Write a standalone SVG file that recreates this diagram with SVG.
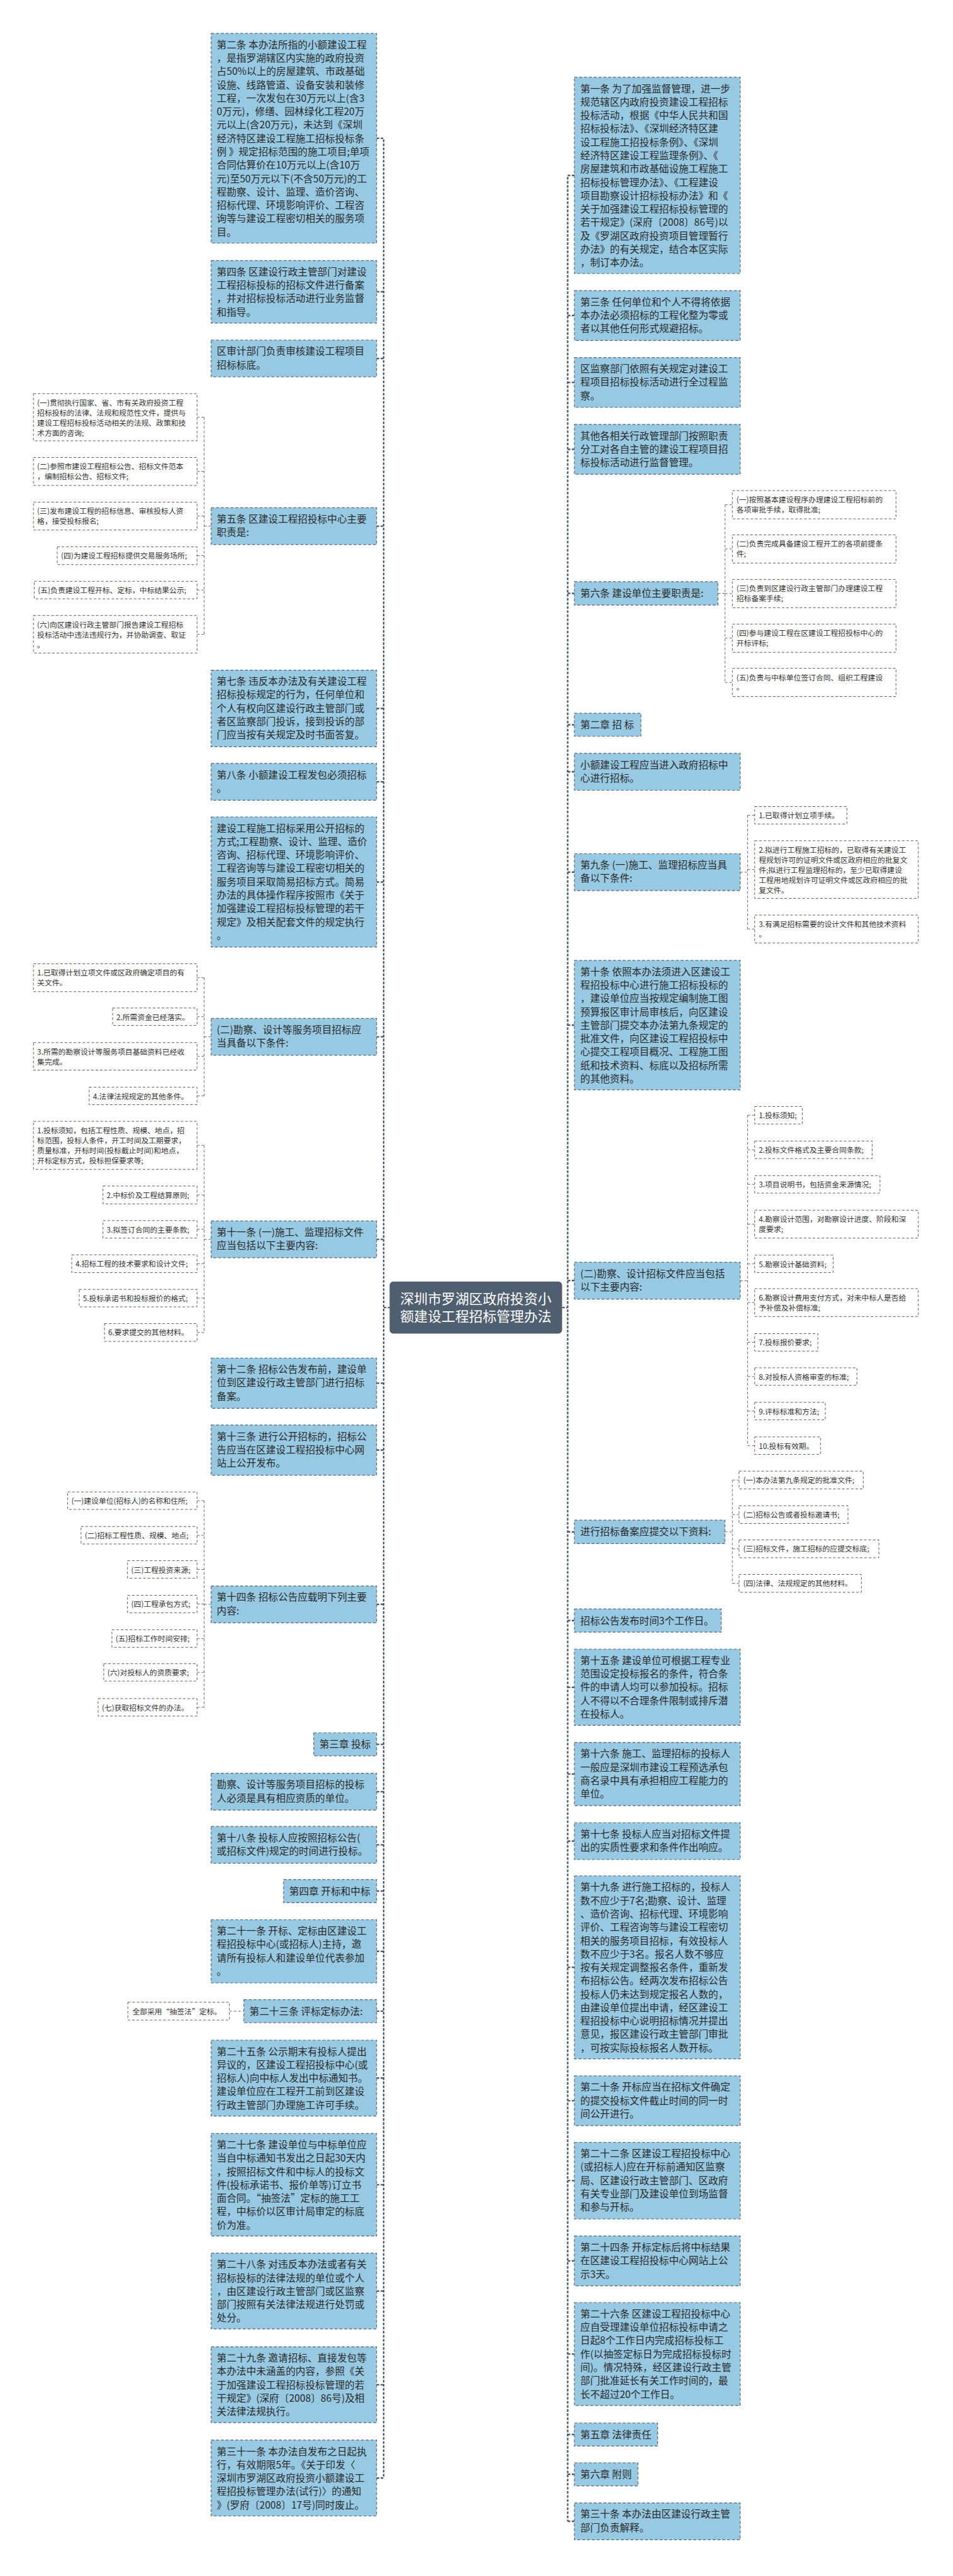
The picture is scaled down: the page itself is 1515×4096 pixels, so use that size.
<svg xmlns="http://www.w3.org/2000/svg" width="1515" height="4096" viewBox="0 0 1515 4096">
<style>
text{font-family:"Noto Sans CJK SC","Noto Sans",sans-serif;}
.m rect{fill:#97c9e2;stroke:#56687a;stroke-width:2;stroke-dasharray:8 5;}
.m text{font-size:26.5px;fill:#2a2a2a;}
.l rect{fill:#ffffff;stroke:#555555;stroke-width:1.6;stroke-dasharray:7 5;}
.l text{font-size:20px;fill:#333333;}
.c rect{fill:#505f6f;}
.c text{font-size:37px;fill:#ffffff;text-anchor:middle;}
.tr{stroke:#4b5969;stroke-width:4;stroke-dasharray:7 4;fill:none;}
.lc{stroke:#666666;stroke-width:1.6;stroke-dasharray:7 5;fill:none;}
</style>
<rect width="1515" height="4096" fill="#ffffff"/>
<g transform="scale(0.591)">
<g id="connectors">
<path class="tr" d="M1013 372H1032V6667M1013 785H1032M1013 964.5H1032M1013 1415.5H1032M1013 1906H1032M1013 2103.5H1032M1013 2373H1032M1013 2789.5H1032M1013 3334.5H1032M1032 3518H1048M1013 3721.5H1032M1013 3901.5H1032M1013 4316.5H1032M1013 4693H1032M1013 4820.5H1032M1013 4963.5H1032M1013 5088H1032M1013 5250H1032M1013 5411H1032M1013 5591H1032M1013 5878H1032M1013 6164H1032M1013 6416H1032M1013 6667H1032"/>
<path class="tr" d="M1545 472H1527V6783.5M1527 849H1545M1527 1029H1545M1527 1209H1545M1527 1596.5H1545M1527 1950H1545M1527 2076.5H1545M1527 2346.5H1545M1527 2758H1545M1527 3445.5H1545M1512 3518H1527M1527 4121.5H1545M1527 4360H1545M1527 4539.5H1545M1527 4773H1545M1527 4953.5H1545M1527 5293H1545M1527 5652H1545M1527 5867H1545M1527 6083H1545M1527 6333.5H1545M1527 6550H1545M1527 6657H1545M1527 6783.5H1545"/>
<path class="lc" d="M568 1415.5H549M549 1122.5V1706.5M530 1122.5H549M530 1268.5H549M530 1388.5H549M530 1495H549M530 1587.5H549M530 1706.5H549"/>
<path class="lc" d="M568 2789.5H549M549 2630.5V2948.5M530 2630.5H549M530 2735.5H549M530 2842H549M530 2948.5H549"/>
<path class="lc" d="M568 3334.5H549M549 3081.5V3585M530 3081.5H549M530 3215H549M530 3307.5H549M530 3400H549M530 3492.5H549M530 3585H549"/>
<path class="lc" d="M568 4316.5H549M549 4037.5V4593.5M530 4037.5H549M530 4130.5H549M530 4222.5H549M530 4315.5H549M530 4408.5H549M530 4499.5H549M530 4593.5H549"/>
<path class="lc" d="M617 5411H656"/>
<path class="lc" d="M1931 1596.5H1950M1950 1358V1836M1950 1358H1970M1950 1477H1970M1950 1597H1970M1950 1717H1970M1950 1836H1970"/>
<path class="lc" d="M1991 2346.5H2011M2011 2193.5V2499.5M2011 2193.5H2030M2011 2339.5H2030M2011 2499.5H2030"/>
<path class="lc" d="M1991 3445.5H2011M2011 3000.5V3889.5M2011 3000.5H2030M2011 3093.5H2030M2011 3186.5H2030M2011 3293.5H2030M2011 3400.5H2030M2011 3504.5H2030M2011 3611.5H2030M2011 3703.5H2030M2011 3796.5H2030M2011 3889.5H2030"/>
<path class="lc" d="M1950 4121.5H1970M1970 3982V4260M1970 3982H1988M1970 4075H1988M1970 4167H1988M1970 4260H1988"/>
</g>

<g id="center" class="c"><rect x="1048" y="3448" width="464" height="140" rx="10"/><text><tspan x="1280" y="3507">深圳市罗湖区政府投资小</tspan><tspan x="1280" y="3555">额建设工程招标管理办法</tspan></text></g>

<g id="L1" class="m"><rect x="568" y="90" width="445" height="564"/><text><tspan x="583" y="130">第二条 本办法所指的小额建设工程</tspan><tspan x="583" y="166">，是指罗湖辖区内实施的政府投资</tspan><tspan x="583" y="202">占50%以上的房屋建筑、市政基础</tspan><tspan x="583" y="238">设施、线路管道、设备安装和装修</tspan><tspan x="583" y="274">工程，一次发包在30万元以上(含3</tspan><tspan x="583" y="310">0万元)，修缮、园林绿化工程20万</tspan><tspan x="583" y="346">元以上(含20万元)，未达到《深圳</tspan><tspan x="583" y="382">经济特区建设工程施工招标投标条</tspan><tspan x="583" y="418">例 》规定招标范围的施工项目;单项</tspan><tspan x="583" y="454">合同估算价在10万元以上(含10万</tspan><tspan x="583" y="490">元)至50万元以下(不含50万元)的工</tspan><tspan x="583" y="526">程勘察、设计、监理、造价咨询、</tspan><tspan x="583" y="562">招标代理、环境影响评价、工程咨</tspan><tspan x="583" y="598">询等与建设工程密切相关的服务项</tspan><tspan x="583" y="634">目。</tspan></text></g>
<g id="L2" class="m"><rect x="568" y="701" width="445" height="168"/><text><tspan x="583" y="741">第四条 区建设行政主管部门对建设</tspan><tspan x="583" y="777">工程招标投标的招标文件进行备案</tspan><tspan x="583" y="813">，并对招标投标活动进行业务监督</tspan><tspan x="583" y="849">和指导。</tspan></text></g>
<g id="L3" class="m"><rect x="568" y="915" width="445" height="99"/><text><tspan x="583" y="955">区审计部门负责审核建设工程项目</tspan><tspan x="583" y="991">招标标底。</tspan></text></g>
<g id="L4" class="m"><rect x="568" y="1366" width="445" height="99"/><text><tspan x="583" y="1406">第五条 区建设工程招投标中心主要</tspan><tspan x="583" y="1442">职责是:</tspan></text></g>
<g id="L4a" class="l"><rect x="90" y="1059" width="440" height="127"/><text><tspan x="100" y="1091">(一)贯彻执行国家、省、市有关政府投资工程</tspan><tspan x="100" y="1118">招标投标的法律、法规和规范性文件，提供与</tspan><tspan x="100" y="1145">建设工程招标投标活动相关的法规、政策和技</tspan><tspan x="100" y="1172">术方面的咨询;</tspan></text></g>
<g id="L4b" class="l"><rect x="90" y="1231" width="440" height="75"/><text><tspan x="100" y="1263">(二)参照市建设工程招标公告、招标文件范本</tspan><tspan x="100" y="1290">，编制招标公告、招标文件;</tspan></text></g>
<g id="L4c" class="l"><rect x="90" y="1351" width="440" height="75"/><text><tspan x="100" y="1383">(三)发布建设工程的招标信息、审核投标人资</tspan><tspan x="100" y="1410">格，接受投标报名;</tspan></text></g>
<g id="L4d" class="l"><rect x="154" y="1471" width="376" height="48"/><text><tspan x="164" y="1503">(四)为建设工程招标提供交易服务场所;</tspan></text></g>
<g id="L4e" class="l"><rect x="92" y="1564" width="438" height="47"/><text><tspan x="102" y="1596">(五)负责建设工程开标、定标，中标结果公示;</tspan></text></g>
<g id="L4f" class="l"><rect x="90" y="1656" width="440" height="101"/><text><tspan x="100" y="1688">(六)向区建设行政主管部门报告建设工程招标</tspan><tspan x="100" y="1715">投标活动中违法违规行为，并协助调查、取证</tspan><tspan x="100" y="1742">。</tspan></text></g>
<g id="L5" class="m"><rect x="568" y="1803" width="445" height="206"/><text><tspan x="583" y="1843">第七条 违反本办法及有关建设工程</tspan><tspan x="583" y="1879">招标投标规定的行为，任何单位和</tspan><tspan x="583" y="1915">个人有权向区建设行政主管部门或</tspan><tspan x="583" y="1951">者区监察部门投诉，接到投诉的部</tspan><tspan x="583" y="1987">门应当按有关规定及时书面答复。</tspan></text></g>
<g id="L6" class="m"><rect x="568" y="2054" width="445" height="99"/><text><tspan x="583" y="2094">第八条 小额建设工程发包必须招标</tspan><tspan x="583" y="2130">。</tspan></text></g>
<g id="L7" class="m"><rect x="568" y="2198" width="445" height="350"/><text><tspan x="583" y="2238">建设工程施工招标采用公开招标的</tspan><tspan x="583" y="2274">方式;工程勘察、设计、监理、造价</tspan><tspan x="583" y="2310">咨询、招标代理、环境影响评价、</tspan><tspan x="583" y="2346">工程咨询等与建设工程密切相关的</tspan><tspan x="583" y="2382">服务项目采取简易招标方式。简易</tspan><tspan x="583" y="2418">办法的具体操作程序按照市《关于</tspan><tspan x="583" y="2454">加强建设工程招标投标管理的若干</tspan><tspan x="583" y="2490">规定》及相关配套文件的规定执行</tspan><tspan x="583" y="2526">。</tspan></text></g>
<g id="L8" class="m"><rect x="568" y="2740" width="445" height="99"/><text><tspan x="583" y="2780">(二)勘察、设计等服务项目招标应</tspan><tspan x="583" y="2816">当具备以下条件:</tspan></text></g>
<g id="L8a" class="l"><rect x="90" y="2593" width="440" height="75"/><text><tspan x="100" y="2625">1.已取得计划立项文件或区政府确定项目的有</tspan><tspan x="100" y="2652">关文件。</tspan></text></g>
<g id="L8b" class="l"><rect x="303" y="2712" width="227" height="47"/><text><tspan x="313" y="2744">2.所需资金已经落实。</tspan></text></g>
<g id="L8c" class="l"><rect x="90" y="2805" width="440" height="74"/><text><tspan x="100" y="2837">3.所需的勘察设计等服务项目基础资料已经收</tspan><tspan x="100" y="2864">集完成。</tspan></text></g>
<g id="L8d" class="l"><rect x="240" y="2925" width="290" height="47"/><text><tspan x="250" y="2957">4.法律法规规定的其他条件。</tspan></text></g>
<g id="L9" class="m"><rect x="568" y="3285" width="445" height="99"/><text><tspan x="583" y="3325">第十一条 (一)施工、监理招标文件</tspan><tspan x="583" y="3361">应当包括以下主要内容:</tspan></text></g>
<g id="L9a" class="l"><rect x="90" y="3017" width="440" height="129"/><text><tspan x="100" y="3049">1.投标须知，包括工程性质、规模、地点，招</tspan><tspan x="100" y="3076">标范围，投标人条件，开工时间及工期要求，</tspan><tspan x="100" y="3103">质量标准，开标时间(投标截止时间)和地点，</tspan><tspan x="100" y="3130">开标定标方式，投标担保要求等;</tspan></text></g>
<g id="L9b" class="l"><rect x="277" y="3191" width="253" height="48"/><text><tspan x="287" y="3223">2.中标价及工程结算原则;</tspan></text></g>
<g id="L9c" class="l"><rect x="277" y="3284" width="253" height="47"/><text><tspan x="287" y="3316">3.拟签订合同的主要条款;</tspan></text></g>
<g id="L9d" class="l"><rect x="193" y="3376" width="337" height="48"/><text><tspan x="203" y="3408">4.招标工程的技术要求和设计文件;</tspan></text></g>
<g id="L9e" class="l"><rect x="213" y="3469" width="317" height="47"/><text><tspan x="223" y="3501">5.投标承诺书和投标报价的格式;</tspan></text></g>
<g id="L9f" class="l"><rect x="281" y="3561" width="249" height="48"/><text><tspan x="291" y="3593">6.要求提交的其他材料。</tspan></text></g>
<g id="L10" class="m"><rect x="568" y="3654" width="445" height="135"/><text><tspan x="583" y="3694">第十二条 招标公告发布前，建设单</tspan><tspan x="583" y="3730">位到区建设行政主管部门进行招标</tspan><tspan x="583" y="3766">备案。</tspan></text></g>
<g id="L11" class="m"><rect x="568" y="3834" width="445" height="135"/><text><tspan x="583" y="3874">第十三条 进行公开招标的，招标公</tspan><tspan x="583" y="3910">告应当在区建设工程招投标中心网</tspan><tspan x="583" y="3946">站上公开发布。</tspan></text></g>
<g id="L12" class="m"><rect x="568" y="4267" width="445" height="99"/><text><tspan x="583" y="4307">第十四条 招标公告应载明下列主要</tspan><tspan x="583" y="4343">内容:</tspan></text></g>
<g id="L12a" class="l"><rect x="182" y="4014" width="348" height="47"/><text><tspan x="192" y="4046">(一)建设单位(招标人)的名称和住所;</tspan></text></g>
<g id="L12b" class="l"><rect x="218" y="4107" width="312" height="47"/><text><tspan x="228" y="4139">(二)招标工程性质、规模、地点;</tspan></text></g>
<g id="L12c" class="l"><rect x="343" y="4199" width="187" height="47"/><text><tspan x="353" y="4231">(三)工程投资来源;</tspan></text></g>
<g id="L12d" class="l"><rect x="343" y="4292" width="187" height="47"/><text><tspan x="353" y="4324">(四)工程承包方式;</tspan></text></g>
<g id="L12e" class="l"><rect x="301" y="4385" width="229" height="47"/><text><tspan x="311" y="4417">(五)招标工作时间安排;</tspan></text></g>
<g id="L12f" class="l"><rect x="279" y="4476" width="251" height="47"/><text><tspan x="289" y="4508">(六)对投标人的资质要求;</tspan></text></g>
<g id="L12g" class="l"><rect x="264" y="4570" width="266" height="47"/><text><tspan x="274" y="4602">(七)获取招标文件的办法。</tspan></text></g>
<g id="L13" class="m"><rect x="844" y="4662" width="169" height="62"/><text><tspan x="859" y="4703">第三章 投标</tspan></text></g>
<g id="L14" class="m"><rect x="568" y="4771" width="445" height="99"/><text><tspan x="583" y="4811">勘察、设计等服务项目招标的投标</tspan><tspan x="583" y="4847">人必须是具有相应资质的单位。</tspan></text></g>
<g id="L15" class="m"><rect x="568" y="4914" width="445" height="99"/><text><tspan x="583" y="4954">第十八条 投标人应按照招标公告(</tspan><tspan x="583" y="4990">或招标文件)规定的时间进行投标。</tspan></text></g>
<g id="L16" class="m"><rect x="763" y="5057" width="250" height="62"/><text><tspan x="778" y="5098">第四章 开标和中标</tspan></text></g>
<g id="L17" class="m"><rect x="568" y="5165" width="445" height="170"/><text><tspan x="583" y="5205">第二十一条 开标、定标由区建设工</tspan><tspan x="583" y="5241">程招投标中心(或招标人)主持，邀</tspan><tspan x="583" y="5277">请所有投标人和建设单位代表参加</tspan><tspan x="583" y="5313">。</tspan></text></g>
<g id="L18" class="m"><rect x="656" y="5380" width="357" height="62"/><text><tspan x="671" y="5421">第二十三条 评标定标办法:</tspan></text></g>
<g id="L18a" class="l"><rect x="344" y="5387" width="273" height="48"/><text><tspan x="356" y="5419">全部采用“抽签法”定标。</tspan></text></g>
<g id="L19" class="m"><rect x="568" y="5489" width="445" height="204"/><text><tspan x="583" y="5529">第二十五条 公示期末有投标人提出</tspan><tspan x="583" y="5565">异议的，区建设工程招投标中心(或</tspan><tspan x="583" y="5601">招标人)向中标人发出中标通知书。</tspan><tspan x="583" y="5637">建设单位应在工程开工前到区建设</tspan><tspan x="583" y="5673">行政主管部门办理施工许可手续。</tspan></text></g>
<g id="L20" class="m"><rect x="568" y="5740" width="445" height="276"/><text><tspan x="583" y="5780">第二十七条 建设单位与中标单位应</tspan><tspan x="583" y="5816">当自中标通知书发出之日起30天内</tspan><tspan x="583" y="5852">，按照招标文件和中标人的投标文</tspan><tspan x="583" y="5888">件(投标承诺书、报价单等)订立书</tspan><tspan x="583" y="5924">面合同。“抽签法”定标的施工工</tspan><tspan x="583" y="5960">程，中标价以区审计局审定的标底</tspan><tspan x="583" y="5996">价为准。</tspan></text></g>
<g id="L21" class="m"><rect x="568" y="6062" width="445" height="204"/><text><tspan x="583" y="6102">第二十八条 对违反本办法或者有关</tspan><tspan x="583" y="6138">招标投标的法律法规的单位或个人</tspan><tspan x="583" y="6174">，由区建设行政主管部门或区监察</tspan><tspan x="583" y="6210">部门按照有关法律法规进行处罚或</tspan><tspan x="583" y="6246">处分。</tspan></text></g>
<g id="L22" class="m"><rect x="568" y="6314" width="445" height="204"/><text><tspan x="583" y="6354">第二十九条 邀请招标、直接发包等</tspan><tspan x="583" y="6390">本办法中未涵盖的内容，参照《关</tspan><tspan x="583" y="6426">于加强建设工程招标投标管理的若</tspan><tspan x="583" y="6462">干规定》(深府〔2008〕86号)及相</tspan><tspan x="583" y="6498">关法律法规执行。</tspan></text></g>
<g id="L23" class="m"><rect x="568" y="6565" width="445" height="204"/><text><tspan x="583" y="6605">第三十一条 本办法自发布之日起执</tspan><tspan x="583" y="6641">行，有效期限5年。《关于印发〈</tspan><tspan x="583" y="6677">深圳市罗湖区政府投资小额建设工</tspan><tspan x="583" y="6713">程招投标管理办法(试行)〉的通知</tspan><tspan x="583" y="6749">》(罗府〔2008〕17号)同时废止。</tspan></text></g>

<g id="R1" class="m"><rect x="1545" y="208" width="446" height="528"/><text><tspan x="1561" y="248">第一条 为了加强监督管理，进一步</tspan><tspan x="1561" y="284">规范辖区内政府投资建设工程招标</tspan><tspan x="1561" y="320">投标活动，根据《中华人民共和国</tspan><tspan x="1561" y="356">招标投标法》、《深圳经济特区建</tspan><tspan x="1561" y="392">设工程施工招投标条例》、《深圳</tspan><tspan x="1561" y="428">经济特区建设工程监理条例》、《</tspan><tspan x="1561" y="464">房屋建筑和市政基础设施工程施工</tspan><tspan x="1561" y="500">招标投标管理办法》、《工程建设</tspan><tspan x="1561" y="536">项目勘察设计招标投标办法》和《</tspan><tspan x="1561" y="572">关于加强建设工程招标投标管理的</tspan><tspan x="1561" y="608">若干规定》(深府〔2008〕86号)以</tspan><tspan x="1561" y="644">及《罗湖区政府投资项目管理暂行</tspan><tspan x="1561" y="680">办法》的有关规定，结合本区实际</tspan><tspan x="1561" y="716">，制订本办法。</tspan></text></g>
<g id="R2" class="m"><rect x="1545" y="782" width="446" height="134"/><text><tspan x="1561" y="822">第三条 任何单位和个人不得将依据</tspan><tspan x="1561" y="858">本办法必须招标的工程化整为零或</tspan><tspan x="1561" y="894">者以其他任何形式规避招标。</tspan></text></g>
<g id="R3" class="m"><rect x="1545" y="962" width="446" height="134"/><text><tspan x="1561" y="1002">区监察部门依照有关规定对建设工</tspan><tspan x="1561" y="1038">程项目招标投标活动进行全过程监</tspan><tspan x="1561" y="1074">察。</tspan></text></g>
<g id="R4" class="m"><rect x="1545" y="1142" width="446" height="134"/><text><tspan x="1561" y="1182">其他各相关行政管理部门按照职责</tspan><tspan x="1561" y="1218">分工对各自主管的建设工程项目招</tspan><tspan x="1561" y="1254">标投标活动进行监督管理。</tspan></text></g>
<g id="R5" class="m"><rect x="1545" y="1565" width="386" height="63"/><text><tspan x="1561" y="1606">第六条 建设单位主要职责是:</tspan></text></g>
<g id="R5a" class="l"><rect x="1970" y="1320" width="440" height="76"/><text><tspan x="1981" y="1352">(一)按照基本建设程序办理建设工程招标前的</tspan><tspan x="1981" y="1379">各项审批手续，取得批准;</tspan></text></g>
<g id="R5b" class="l"><rect x="1970" y="1439" width="440" height="76"/><text><tspan x="1981" y="1471">(二)负责完成具备建设工程开工的各项前提条</tspan><tspan x="1981" y="1498">件;</tspan></text></g>
<g id="R5c" class="l"><rect x="1970" y="1559" width="440" height="76"/><text><tspan x="1981" y="1591">(三)负责到区建设行政主管部门办理建设工程</tspan><tspan x="1981" y="1618">招标备案手续;</tspan></text></g>
<g id="R5d" class="l"><rect x="1970" y="1679" width="440" height="76"/><text><tspan x="1981" y="1711">(四)参与建设工程在区建设工程招投标中心的</tspan><tspan x="1981" y="1738">开标评标;</tspan></text></g>
<g id="R5e" class="l"><rect x="1970" y="1798" width="440" height="76"/><text><tspan x="1981" y="1830">(五)负责与中标单位签订合同、组织工程建设</tspan><tspan x="1981" y="1857">。</tspan></text></g>
<g id="R6" class="m"><rect x="1545" y="1919" width="179" height="62"/><text><tspan x="1561" y="1960">第二章 招 标</tspan></text></g>
<g id="R7" class="m"><rect x="1545" y="2027" width="446" height="99"/><text><tspan x="1561" y="2067">小额建设工程应当进入政府招标中</tspan><tspan x="1561" y="2103">心进行招标。</tspan></text></g>
<g id="R8" class="m"><rect x="1545" y="2297" width="446" height="99"/><text><tspan x="1561" y="2337">第九条 (一)施工、监理招标应当具</tspan><tspan x="1561" y="2373">备以下条件:</tspan></text></g>
<g id="R8a" class="l"><rect x="2030" y="2170" width="248" height="47"/><text><tspan x="2041" y="2202">1.已取得计划立项手续。</tspan></text></g>
<g id="R8b" class="l"><rect x="2030" y="2262" width="440" height="155"/><text><tspan x="2041" y="2294">2.拟进行工程施工招标的，已取得有关建设工</tspan><tspan x="2041" y="2321">程规划许可的证明文件或区政府相应的批复文</tspan><tspan x="2041" y="2348">件;拟进行工程监理招标的，至少已取得建设</tspan><tspan x="2041" y="2375">工程用地规划许可证明文件或区政府相应的批</tspan><tspan x="2041" y="2402">复文件。</tspan></text></g>
<g id="R8c" class="l"><rect x="2030" y="2462" width="440" height="75"/><text><tspan x="2041" y="2494">3.有满足招标需要的设计文件和其他技术资料</tspan><tspan x="2041" y="2521">。</tspan></text></g>
<g id="R9" class="m"><rect x="1545" y="2584" width="446" height="348"/><text><tspan x="1561" y="2624">第十条 依照本办法须进入区建设工</tspan><tspan x="1561" y="2660">程招投标中心进行施工招标投标的</tspan><tspan x="1561" y="2696">，建设单位应当按规定编制施工图</tspan><tspan x="1561" y="2732">预算报区审计局审核后，向区建设</tspan><tspan x="1561" y="2768">主管部门提交本办法第九条规定的</tspan><tspan x="1561" y="2804">批准文件，向区建设工程招投标中</tspan><tspan x="1561" y="2840">心提交工程项目概况、工程施工图</tspan><tspan x="1561" y="2876">纸和技术资料、标底以及招标所需</tspan><tspan x="1561" y="2912">的其他资料。</tspan></text></g>
<g id="R10" class="m"><rect x="1545" y="3396" width="446" height="99"/><text><tspan x="1561" y="3436">(二)勘察、设计招标文件应当包括</tspan><tspan x="1561" y="3472">以下主要内容:</tspan></text></g>
<g id="R10a" class="l"><rect x="2030" y="2977" width="128" height="47"/><text><tspan x="2041" y="3009">1.投标须知;</tspan></text></g>
<g id="R10b" class="l"><rect x="2030" y="3070" width="316" height="47"/><text><tspan x="2041" y="3102">2.投标文件格式及主要合同条款;</tspan></text></g>
<g id="R10c" class="l"><rect x="2030" y="3163" width="337" height="47"/><text><tspan x="2041" y="3195">3.项目说明书，包括资金来源情况;</tspan></text></g>
<g id="R10d" class="l"><rect x="2030" y="3256" width="440" height="75"/><text><tspan x="2041" y="3288">4.勘察设计范围，对勘察设计进度、阶段和深</tspan><tspan x="2041" y="3315">度要求;</tspan></text></g>
<g id="R10e" class="l"><rect x="2030" y="3377" width="211" height="47"/><text><tspan x="2041" y="3409">5.勘察设计基础资料;</tspan></text></g>
<g id="R10f" class="l"><rect x="2030" y="3467" width="440" height="75"/><text><tspan x="2041" y="3499">6.勘察设计费用支付方式，对未中标人是否给</tspan><tspan x="2041" y="3526">予补偿及补偿标准;</tspan></text></g>
<g id="R10g" class="l"><rect x="2030" y="3588" width="170" height="47"/><text><tspan x="2041" y="3620">7.投标报价要求;</tspan></text></g>
<g id="R10h" class="l"><rect x="2030" y="3680" width="275" height="47"/><text><tspan x="2041" y="3712">8.对投标人资格审查的标准;</tspan></text></g>
<g id="R10i" class="l"><rect x="2030" y="3773" width="190" height="47"/><text><tspan x="2041" y="3805">9.评标标准和方法;</tspan></text></g>
<g id="R10j" class="l"><rect x="2030" y="3866" width="177" height="47"/><text><tspan x="2041" y="3898">10.投标有效期。</tspan></text></g>
<g id="R11" class="m"><rect x="1545" y="4090" width="405" height="63"/><text><tspan x="1561" y="4131">进行招标备案应提交以下资料:</tspan></text></g>
<g id="R11a" class="l"><rect x="1988" y="3958" width="334" height="48"/><text><tspan x="1999" y="3990">(一)本办法第九条规定的批准文件;</tspan></text></g>
<g id="R11b" class="l"><rect x="1988" y="4051" width="293" height="48"/><text><tspan x="1999" y="4083">(二)招标公告或者投标邀请书;</tspan></text></g>
<g id="R11c" class="l"><rect x="1988" y="4143" width="376" height="48"/><text><tspan x="1999" y="4175">(三)招标文件，施工招标的应提交标底;</tspan></text></g>
<g id="R11d" class="l"><rect x="1988" y="4236" width="329" height="48"/><text><tspan x="1999" y="4268">(四)法律、法规规定的其他材料。</tspan></text></g>
<g id="R12" class="m"><rect x="1545" y="4329" width="395" height="62"/><text><tspan x="1561" y="4370">招标公告发布时间3个工作日。</tspan></text></g>
<g id="R13" class="m"><rect x="1545" y="4437" width="446" height="205"/><text><tspan x="1561" y="4477">第十五条 建设单位可根据工程专业</tspan><tspan x="1561" y="4513">范围设定投标报名的条件，符合条</tspan><tspan x="1561" y="4549">件的申请人均可以参加投标。招标</tspan><tspan x="1561" y="4585">人不得以不合理条件限制或排斥潜</tspan><tspan x="1561" y="4621">在投标人。</tspan></text></g>
<g id="R14" class="m"><rect x="1545" y="4688" width="446" height="170"/><text><tspan x="1561" y="4728">第十六条 施工、监理招标的投标人</tspan><tspan x="1561" y="4764">一般应是深圳市建设工程预选承包</tspan><tspan x="1561" y="4800">商名录中具有承担相应工程能力的</tspan><tspan x="1561" y="4836">单位。</tspan></text></g>
<g id="R15" class="m"><rect x="1545" y="4904" width="446" height="99"/><text><tspan x="1561" y="4944">第十七条 投标人应当对招标文件提</tspan><tspan x="1561" y="4980">出的实质性要求和条件作出响应。</tspan></text></g>
<g id="R16" class="m"><rect x="1545" y="5047" width="446" height="492"/><text><tspan x="1561" y="5087">第十九条 进行施工招标的，投标人</tspan><tspan x="1561" y="5123">数不应少于7名;勘察、设计、监理</tspan><tspan x="1561" y="5159">、造价咨询、招标代理、环境影响</tspan><tspan x="1561" y="5195">评价、工程咨询等与建设工程密切</tspan><tspan x="1561" y="5231">相关的服务项目招标，有效投标人</tspan><tspan x="1561" y="5267">数不应少于3名。报名人数不够应</tspan><tspan x="1561" y="5303">按有关规定调整报名条件，重新发</tspan><tspan x="1561" y="5339">布招标公告。经两次发布招标公告</tspan><tspan x="1561" y="5375">投标人仍未达到规定报名人数的，</tspan><tspan x="1561" y="5411">由建设单位提出申请，经区建设工</tspan><tspan x="1561" y="5447">程招投标中心说明招标情况并提出</tspan><tspan x="1561" y="5483">意见，报区建设行政主管部门审批</tspan><tspan x="1561" y="5519">，可按实际投标报名人数开标。</tspan></text></g>
<g id="R17" class="m"><rect x="1545" y="5585" width="446" height="134"/><text><tspan x="1561" y="5625">第二十条 开标应当在招标文件确定</tspan><tspan x="1561" y="5661">的提交投标文件截止时间的同一时</tspan><tspan x="1561" y="5697">间公开进行。</tspan></text></g>
<g id="R18" class="m"><rect x="1545" y="5764" width="446" height="206"/><text><tspan x="1561" y="5804">第二十二条 区建设工程招投标中心</tspan><tspan x="1561" y="5840">(或招标人)应在开标前通知区监察</tspan><tspan x="1561" y="5876">局、区建设行政主管部门、区政府</tspan><tspan x="1561" y="5912">有关专业部门及建设单位到场监督</tspan><tspan x="1561" y="5948">和参与开标。</tspan></text></g>
<g id="R19" class="m"><rect x="1545" y="6016" width="446" height="134"/><text><tspan x="1561" y="6056">第二十四条 开标定标后将中标结果</tspan><tspan x="1561" y="6092">在区建设工程招投标中心网站上公</tspan><tspan x="1561" y="6128">示3天。</tspan></text></g>
<g id="R20" class="m"><rect x="1545" y="6195" width="446" height="277"/><text><tspan x="1561" y="6235">第二十六条 区建设工程招投标中心</tspan><tspan x="1561" y="6271">应自受理建设单位招标投标申请之</tspan><tspan x="1561" y="6307">日起8个工作日内完成招标投标工</tspan><tspan x="1561" y="6343">作(以抽签定标日为完成招标投标时</tspan><tspan x="1561" y="6379">间)。情况特殊，经区建设行政主管</tspan><tspan x="1561" y="6415">部门批准延长有关工作时间的，最</tspan><tspan x="1561" y="6451">长不超过20个工作日。</tspan></text></g>
<g id="R21" class="m"><rect x="1545" y="6519" width="224" height="62"/><text><tspan x="1561" y="6560">第五章 法律责任</tspan></text></g>
<g id="R22" class="m"><rect x="1545" y="6626" width="171" height="62"/><text><tspan x="1561" y="6667">第六章 附则</tspan></text></g>
<g id="R23" class="m"><rect x="1545" y="6734" width="446" height="99"/><text><tspan x="1561" y="6774">第三十条 本办法由区建设行政主管</tspan><tspan x="1561" y="6810">部门负责解释。</tspan></text></g>
</g>
</svg>
